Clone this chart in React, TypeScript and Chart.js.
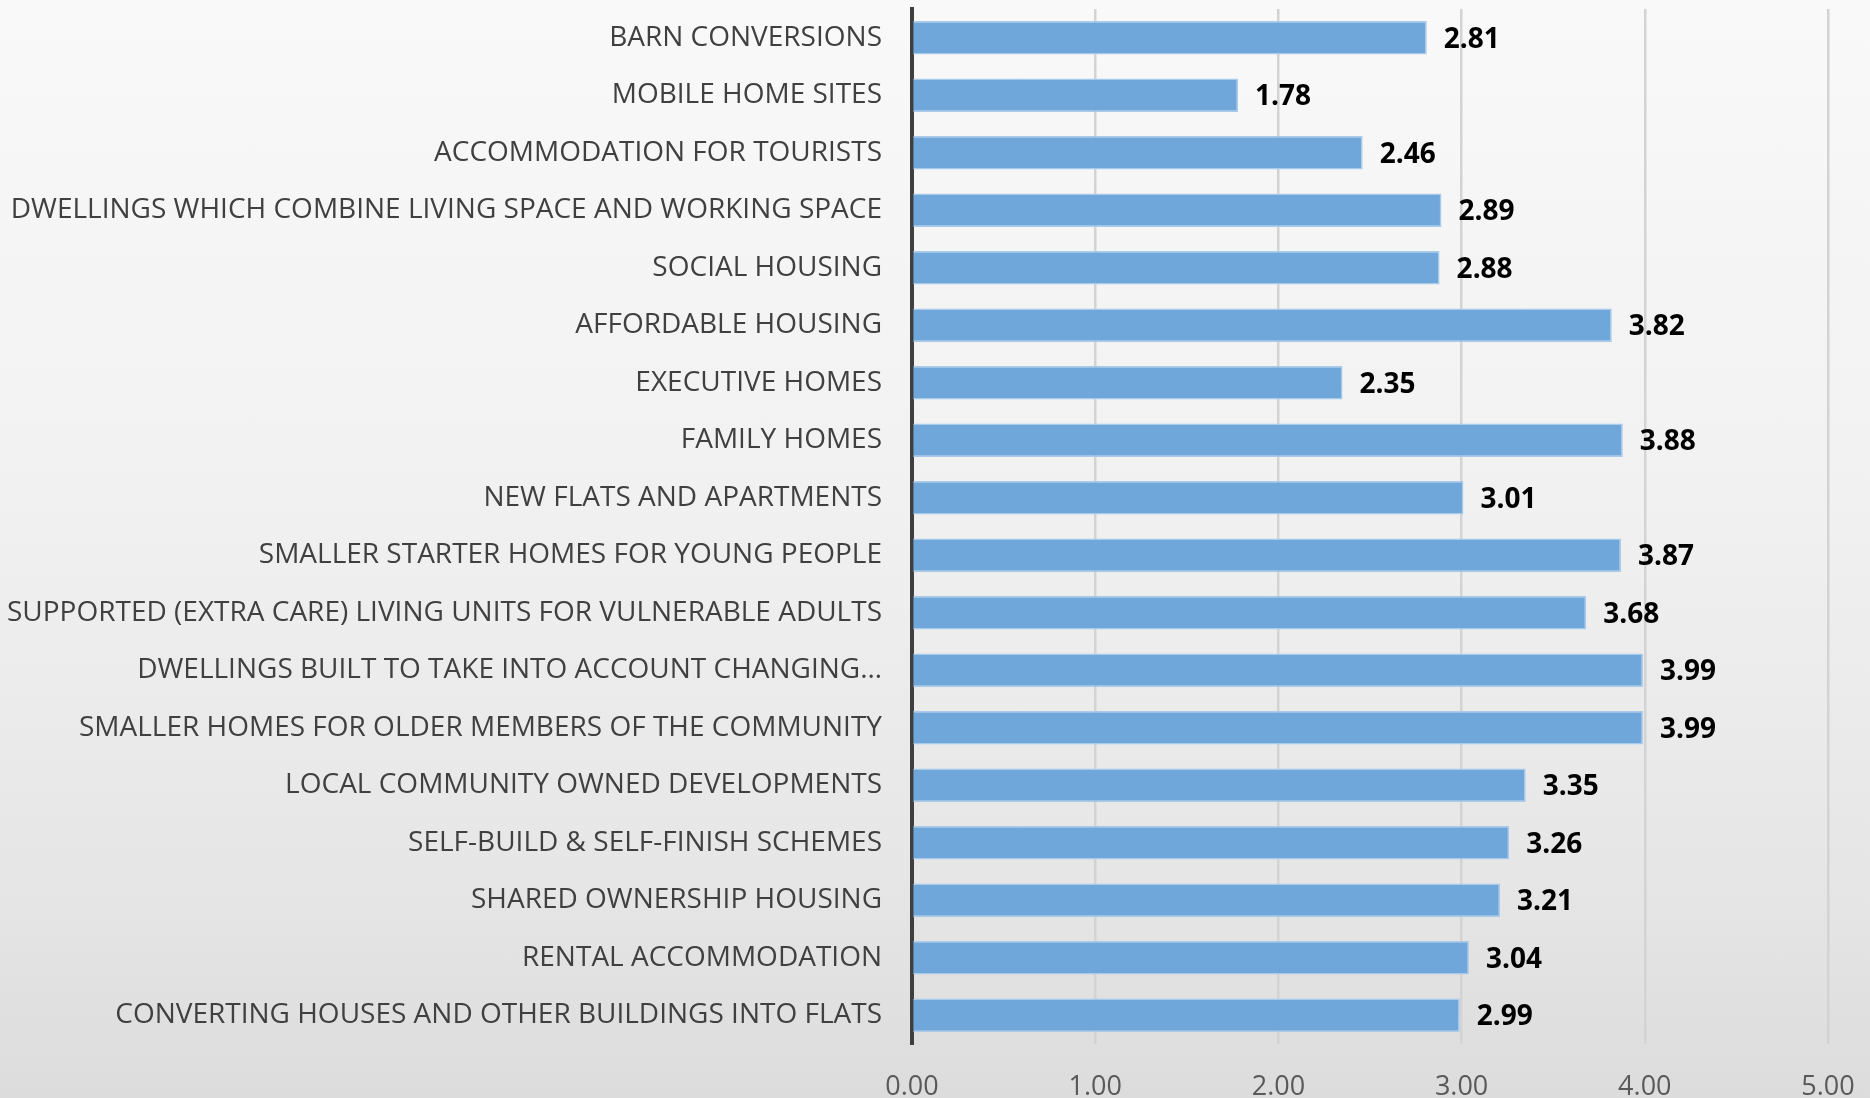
import React, { useEffect, useRef } from "react";
import { Chart, registerables } from "chart.js";

Chart.register(...registerables);

const categories: string[] = [
  "BARN CONVERSIONS",
  "MOBILE HOME SITES",
  "ACCOMMODATION FOR TOURISTS",
  "DWELLINGS WHICH COMBINE LIVING SPACE AND WORKING SPACE",
  "SOCIAL HOUSING",
  "AFFORDABLE HOUSING",
  "EXECUTIVE HOMES",
  "FAMILY HOMES",
  "NEW FLATS AND APARTMENTS",
  "SMALLER STARTER HOMES FOR YOUNG PEOPLE",
  "SUPPORTED (EXTRA CARE) LIVING UNITS FOR VULNERABLE ADULTS",
  "DWELLINGS BUILT TO TAKE INTO ACCOUNT CHANGING…",
  "SMALLER HOMES FOR OLDER MEMBERS OF THE COMMUNITY",
  "LOCAL COMMUNITY OWNED DEVELOPMENTS",
  "SELF-BUILD & SELF-FINISH SCHEMES",
  "SHARED OWNERSHIP HOUSING",
  "RENTAL ACCOMMODATION",
  "CONVERTING HOUSES AND OTHER BUILDINGS INTO FLATS",
];

const scores: number[] = [
  2.81, 1.78, 2.46, 2.89, 2.88, 3.82, 2.35, 3.88, 3.01, 3.87, 3.68, 3.99, 3.99,
  3.35, 3.26, 3.21, 3.04, 2.99,
];

const xMin = 0;
const xMax = 5;
const xStep = 1;

const LABEL_FONT = "'Open Sans', sans-serif";

const valueLabelPlugin = {
  id: "valueLabels",
  afterDatasetsDraw(chart: any) {
    const ctx = chart.ctx;
    const meta = chart.getDatasetMeta(0);
    ctx.save();
    ctx.font = `bold 28px ${LABEL_FONT}`;
    ctx.fillStyle = "#000000";
    ctx.textAlign = "left";
    ctx.textBaseline = "middle";
    meta.data.forEach((el: any, i: number) => {
      const v = chart.data.datasets[0].data[i] as number;
      ctx.fillText(v.toFixed(2), el.x + 17, el.y + 2);
    });
    ctx.restore();
  },
};

export default function App() {
  const canvasRef = useRef<HTMLCanvasElement | null>(null);

  useEffect(() => {
    if (!canvasRef.current) return;
    const chart = new Chart(canvasRef.current, {
      type: "bar",
      data: {
        labels: categories,
        datasets: [
          {
            data: scores,
            backgroundColor: "#70a7da",
            borderColor: "#a9cbeb",
            borderWidth: 1.5,
            barPercentage: 0.58,
            categoryPercentage: 1,
          },
        ],
      },
      options: {
        indexAxis: "y",
        responsive: false,
        animation: false,
        layout: { padding: { top: 9, right: 42, left: 0, bottom: 0 } },
        plugins: {
          legend: { display: false },
          tooltip: { enabled: false },
        },
        scales: {
          x: {
            min: xMin,
            max: xMax,
            grid: {
              color: (c: any) => (c.tick && c.tick.value === 0 ? "rgba(0,0,0,0)" : "#d3d3d3"),
              lineWidth: 2.5,
              drawTicks: false,
            },
            border: { display: false },
            ticks: {
              stepSize: xStep,
              padding: 27,
              color: "#595959",
              font: { family: LABEL_FONT, size: 27 },
              callback: (v: any) => Number(v).toFixed(2),
            },
            afterFit: (scale: any) => {
              scale.height = 54;
              scale.paddingLeft = 0;
              scale.paddingRight = 0;
            },
          },
          y: {
            grid: { display: false, drawTicks: false },
            border: { display: true, color: "#3f3f3f", width: 4 },
            ticks: {
              padding: 30,
              color: "#404040",
              font: { family: LABEL_FONT, size: 28 },
              autoSkip: false,
            },
            afterFit: (scale: any) => {
              scale.width = 912;
              scale.paddingTop = 0;
              scale.paddingBottom = 0;
            },
          },
        },
      },
      plugins: [valueLabelPlugin],
    });
    return () => chart.destroy();
  }, []);

  return (
    <div
      style={{
        position: "fixed",
        left: 0,
        top: 0,
        width: 1870,
        height: 1098,
        background:
          "linear-gradient(to bottom, #f9f9f9 0%, #f1f1f1 45%, #e6e6e6 80%, #dcdcdc 100%)",
      }}
    >
      <canvas ref={canvasRef} width={1870} height={1098} style={{ display: "block" }} />
    </div>
  );
}
